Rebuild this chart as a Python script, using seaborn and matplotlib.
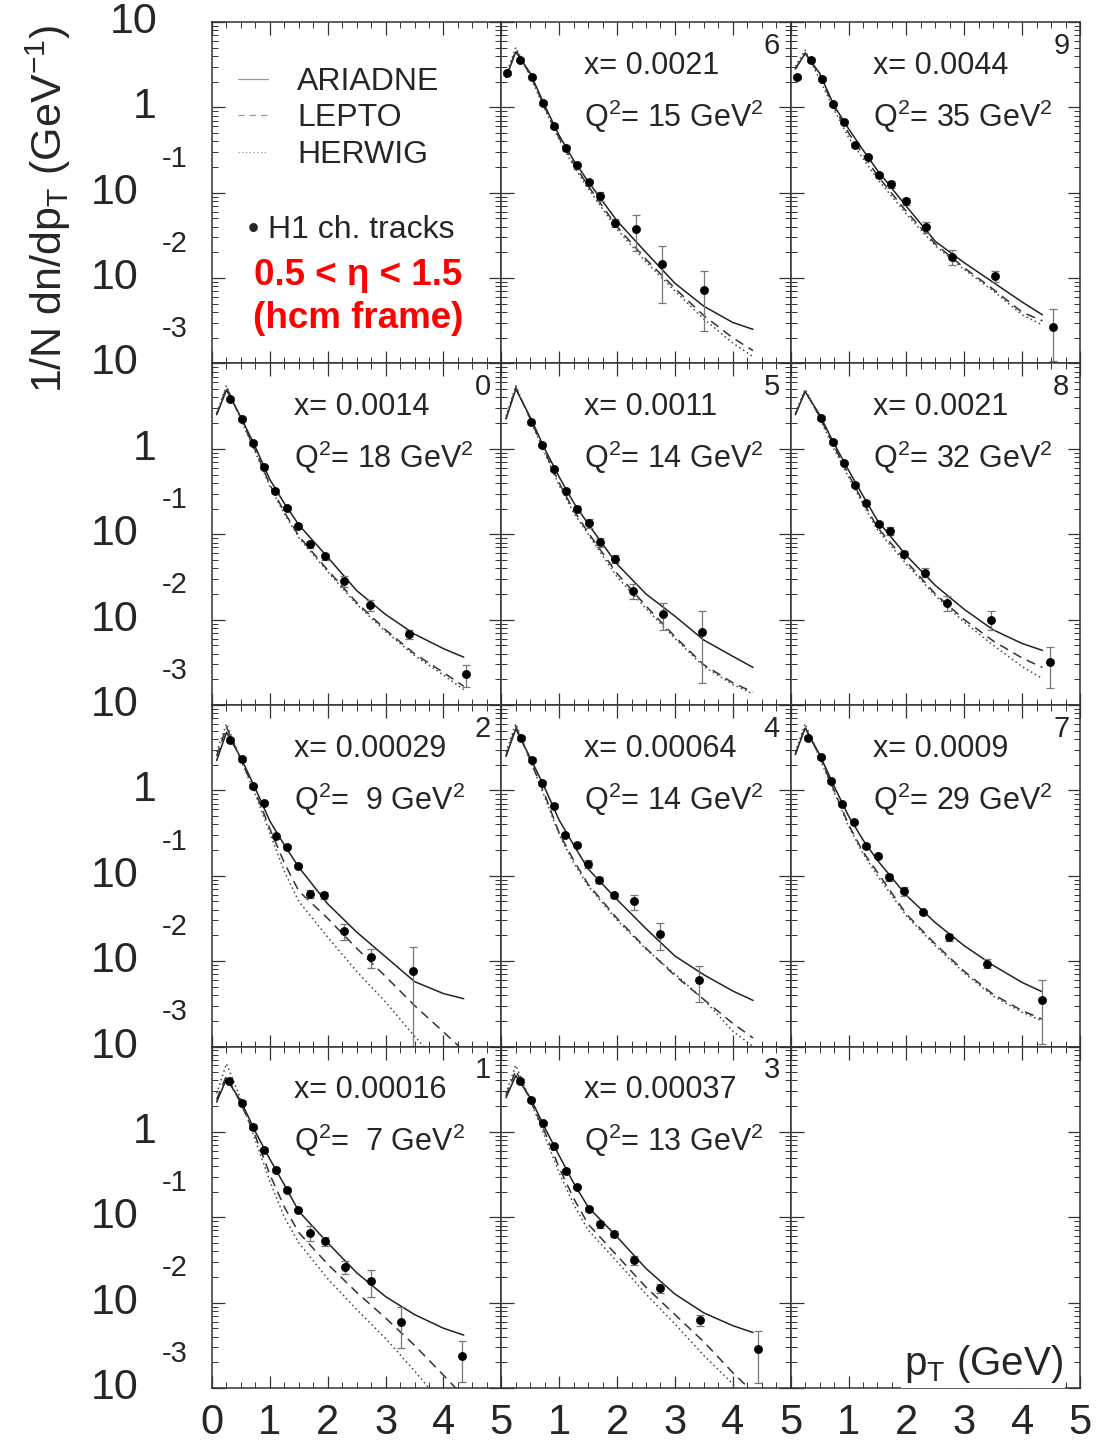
import numpy as np
import pandas as pd
import matplotlib
matplotlib.use('Agg')
import matplotlib.pyplot as plt
import matplotlib.transforms as mtrans
from matplotlib.lines import Line2D
from matplotlib.ticker import MultipleLocator, LogLocator, NullFormatter
import seaborn as sns

# panel layout (H1 bin numbers), None = empty pad
LAYOUT = [['legend', 6, 9], [0, 5, 8], [2, 4, 7], [1, 3, None]]

BIN_X = {6: '0.0021', 9: '0.0044', 0: '0.0014', 5: '0.0011', 8: '0.0021',
         2: '0.00029', 4: '0.00064', 7: '0.0009', 1: '0.00016', 3: '0.00037'}
BIN_Q2 = {6: '15', 9: '35', 0: '18', 5: '14', 8: '32',
          2: ' 9', 4: '14', 7: '29', 1: ' 7', 3: '13'}

# measured points: pT (GeV), log10(1/N dn/dpT), relative error
DATA_PT = {
    6: [0.10, 0.33, 0.53, 0.72, 0.91, 1.11, 1.31, 1.51, 1.71, 1.97, 2.32, 2.78, 3.51],
    9: [0.115, 0.35, 0.54, 0.73, 0.92, 1.12, 1.33, 1.52, 1.73, 1.99, 2.34, 2.79, 3.53, 4.54],
    0: [0.31, 0.51, 0.70, 0.89, 1.09, 1.29, 1.49, 1.70, 1.95, 2.28, 2.73, 3.41, 4.39],
    5: [0.51, 0.70, 0.91, 1.11, 1.31, 1.51, 1.71, 1.97, 2.28, 2.79, 3.46],
    8: [0.53, 0.73, 0.92, 1.12, 1.31, 1.52, 1.71, 1.95, 2.32, 2.70, 3.46, 4.48],
    2: [0.31, 0.51, 0.70, 0.90, 1.10, 1.29, 1.49, 1.70, 1.94, 2.28, 2.75, 3.47],
    4: [0.335, 0.53, 0.70, 0.91, 1.10, 1.31, 1.50, 1.69, 1.95, 2.29, 2.74, 3.42],
    7: [0.30, 0.53, 0.70, 0.89, 1.10, 1.31, 1.51, 1.70, 1.95, 2.29, 2.74, 3.39, 4.35],
    1: [0.30, 0.51, 0.70, 0.90, 1.10, 1.29, 1.48, 1.70, 1.96, 2.30, 2.75, 3.27, 4.32],
    3: [0.32, 0.52, 0.715, 0.905, 1.11, 1.31, 1.51, 1.71, 1.955, 2.29, 2.74, 3.43, 4.43],
}
DATA_LOG = {
    6: [0.40, 0.56, 0.35, 0.05, -0.22, -0.48, -0.68, -0.88, -1.04, -1.35, -1.42, -1.84, -2.14],
    9: [0.36, 0.555, 0.33, 0.04, -0.17, -0.44, -0.58, -0.79, -0.90, -1.10, -1.40, -1.75, -1.98, -2.57],
    0: [0.58, 0.35, 0.07, -0.21, -0.49, -0.69, -0.90, -1.12, -1.26, -1.55, -1.83, -2.17, -2.64],
    5: [0.31, 0.05, -0.24, -0.49, -0.70, -0.87, -1.09, -1.29, -1.66, -1.93, -2.14],
    8: [0.36, 0.08, -0.17, -0.42, -0.63, -0.88, -0.96, -1.23, -1.45, -1.80, -2.00, -2.50],
    2: [0.59, 0.37, 0.055, -0.15, -0.54, -0.66, -0.88, -1.21, -1.23, -1.65, -1.95, -2.11],
    4: [0.61, 0.36, 0.086, -0.18, -0.52, -0.64, -0.86, -1.05, -1.23, -1.30, -1.68, -2.22],
    7: [0.61, 0.39, 0.11, -0.16, -0.375, -0.65, -0.77, -1.02, -1.18, -1.43, -1.72, -2.03, -2.45],
    1: [0.60, 0.34, 0.06, -0.21, -0.45, -0.68, -0.92, -1.18, -1.28, -1.58, -1.745, -2.23, -2.63],
    3: [0.60, 0.37, 0.10, -0.17, -0.455, -0.64, -0.90, -1.08, -1.20, -1.50, -1.83, -2.20, -2.54],
}
DATA_REL = {
    6: [0.05, 0.05, 0.05, 0.05, 0.05, 0.07, 0.08, 0.08, 0.12, 0.10, 0.45, 0.65, 0.67],
    9: [0.05, 0.05, 0.05, 0.05, 0.05, 0.05, 0.05, 0.05, 0.10, 0.10, 0.15, 0.20, 0.15, 0.60],
    0: [0.05, 0.05, 0.05, 0.05, 0.05, 0.05, 0.05, 0.10, 0.08, 0.15, 0.15, 0.12, 0.30],
    5: [0.05, 0.05, 0.05, 0.06, 0.08, 0.12, 0.12, 0.10, 0.20, 0.35, 0.75],
    8: [0.05, 0.05, 0.05, 0.05, 0.05, 0.05, 0.10, 0.08, 0.12, 0.20, 0.25, 0.50],
    2: [0.05, 0.05, 0.05, 0.05, 0.05, 0.05, 0.05, 0.10, 0.10, 0.20, 0.25, 0.90],
    4: [0.05, 0.05, 0.05, 0.05, 0.05, 0.05, 0.10, 0.08, 0.08, 0.20, 0.35, 0.45],
    7: [0.05, 0.05, 0.05, 0.05, 0.05, 0.05, 0.05, 0.10, 0.12, 0.05, 0.10, 0.12, 0.70],
    1: [0.05, 0.05, 0.05, 0.05, 0.05, 0.05, 0.05, 0.20, 0.12, 0.18, 0.35, 0.50, 0.50],
    3: [0.05, 0.05, 0.05, 0.05, 0.05, 0.05, 0.05, 0.10, 0.08, 0.12, 0.12, 0.15, 0.60],
}

# Monte Carlo predictions, log10 values on a common pT grid
CURVE_PT = [0.08, 0.25, 0.5, 0.75, 1.0, 1.25, 1.5, 2.0, 2.5, 3.0, 3.5, 4.0, 4.35]
ARIADNE = {
    6: [0.35, 0.65, 0.40, 0.02, -0.33, -0.62, -0.87, -1.33, -1.70, -2.06, -2.33, -2.52, -2.60],
    9: [0.45, 0.63, 0.40, 0.02, -0.25, -0.50, -0.74, -1.16, -1.57, -1.82, -2.05, -2.28, -2.43],
    0: [0.40, 0.69, 0.37, 0.02, -0.36, -0.64, -0.89, -1.27, -1.66, -1.94, -2.17, -2.34, -2.44],
    5: [0.35, 0.70, 0.37, 0.00, -0.33, -0.63, -0.88, -1.35, -1.70, -1.96, -2.24, -2.43, -2.56],
    8: [0.40, 0.67, 0.40, 0.06, -0.25, -0.55, -0.84, -1.25, -1.60, -1.88, -2.12, -2.28, -2.36],
    2: [0.35, 0.68, 0.38, 0.02, -0.36, -0.64, -0.90, -1.33, -1.66, -1.95, -2.24, -2.38, -2.44],
    4: [0.40, 0.72, 0.38, 0.03, -0.35, -0.64, -0.92, -1.28, -1.62, -1.94, -2.16, -2.35, -2.46],
    7: [0.42, 0.73, 0.42, 0.05, -0.30, -0.58, -0.82, -1.23, -1.55, -1.82, -2.05, -2.25, -2.36],
    1: [0.35, 0.62, 0.36, 0.00, -0.32, -0.62, -0.93, -1.30, -1.65, -1.93, -2.14, -2.30, -2.38],
    3: [0.40, 0.66, 0.40, 0.05, -0.28, -0.60, -0.88, -1.23, -1.60, -1.90, -2.12, -2.27, -2.35],
}
LEPTO = {
    6: [0.35, 0.67, 0.38, 0.00, -0.36, -0.66, -0.92, -1.40, -1.78, -2.12, -2.44, -2.70, -2.85],
    9: [0.45, 0.64, 0.38, 0.00, -0.30, -0.55, -0.80, -1.22, -1.60, -1.88, -2.13, -2.40, -2.50],
    0: [0.40, 0.72, 0.35, -0.02, -0.42, -0.74, -1.02, -1.42, -1.80, -2.12, -2.40, -2.62, -2.78],
    5: [0.35, 0.72, 0.35, -0.03, -0.40, -0.72, -0.98, -1.46, -1.84, -2.20, -2.53, -2.74, -2.85],
    8: [0.40, 0.68, 0.38, 0.03, -0.30, -0.62, -0.92, -1.32, -1.70, -2.00, -2.25, -2.45, -2.56],
    2: [0.40, 0.74, 0.36, -0.02, -0.45, -0.85, -1.18, -1.50, -1.85, -2.18, -2.52, -2.83, -3.05],
    4: [0.40, 0.75, 0.35, -0.05, -0.50, -0.82, -1.10, -1.50, -1.85, -2.17, -2.45, -2.73, -2.90],
    7: [0.42, 0.74, 0.40, 0.00, -0.40, -0.72, -0.96, -1.45, -1.80, -2.12, -2.39, -2.58, -2.68],
    1: [0.38, 0.66, 0.33, -0.05, -0.50, -0.88, -1.18, -1.55, -1.88, -2.18, -2.50, -2.85, -3.10],
    3: [0.42, 0.72, 0.37, 0.00, -0.42, -0.78, -1.08, -1.45, -1.82, -2.14, -2.46, -2.82, -3.05],
}
HERWIG = {
    6: [0.38, 0.70, 0.36, -0.02, -0.38, -0.69, -0.95, -1.43, -1.81, -2.15, -2.48, -2.76, -2.92],
    9: [0.48, 0.67, 0.33, -0.03, -0.35, -0.60, -0.84, -1.25, -1.62, -1.90, -2.15, -2.43, -2.55],
    0: [0.42, 0.74, 0.34, -0.04, -0.44, -0.76, -1.04, -1.44, -1.82, -2.14, -2.42, -2.65, -2.82],
    5: [0.38, 0.74, 0.34, -0.05, -0.43, -0.75, -1.00, -1.50, -1.87, -2.22, -2.55, -2.76, -2.87],
    8: [0.42, 0.70, 0.36, 0.00, -0.33, -0.65, -0.95, -1.35, -1.72, -2.03, -2.30, -2.55, -2.69],
    2: [0.45, 0.78, 0.35, -0.05, -0.50, -0.95, -1.30, -1.72, -2.12, -2.48, -2.88, -3.25, -3.50],
    4: [0.45, 0.78, 0.35, -0.08, -0.52, -0.85, -1.12, -1.52, -1.86, -2.15, -2.45, -2.82, -3.00],
    7: [0.45, 0.78, 0.38, -0.02, -0.42, -0.74, -1.00, -1.47, -1.82, -2.14, -2.41, -2.60, -2.70],
    1: [0.45, 0.80, 0.38, -0.10, -0.58, -1.00, -1.30, -1.72, -2.08, -2.42, -2.80, -3.20, -3.50],
    3: [0.45, 0.78, 0.37, -0.05, -0.48, -0.85, -1.15, -1.52, -1.90, -2.25, -2.62, -2.95, -3.30],
}

sns.set_style('ticks')
plt.rcParams['font.family'] = ['Liberation Sans', 'DejaVu Sans']
plt.rcParams['mathtext.fontset'] = 'custom'
plt.rcParams['mathtext.rm'] = 'Liberation Sans'
plt.rcParams['mathtext.it'] = 'Liberation Sans:italic'

EDGE = '#333333'
fig = plt.figure(figsize=(11.06, 14.46), dpi=100)
gs = fig.add_gridspec(4, 3, left=0.1917, right=0.9765, top=0.9848, bottom=0.0401,
                      hspace=0, wspace=0)

for r, row in enumerate(LAYOUT):
    for c, p in enumerate(row):
        ax = fig.add_subplot(gs[r, c])
        ax.set_yscale('log')
        ax.set_xlim(0, 5)
        ax.set_ylim(1e-3, 10)
        for s in ax.spines.values():
            s.set_color(EDGE)
            s.set_linewidth(1.1)
        ax.xaxis.set_major_locator(MultipleLocator(1))
        ax.xaxis.set_minor_locator(MultipleLocator(0.25))
        ax.yaxis.set_major_locator(LogLocator(base=10, numticks=10))
        ax.yaxis.set_minor_locator(LogLocator(base=10, subs=np.arange(2, 10), numticks=20))
        ax.yaxis.set_minor_formatter(NullFormatter())
        ax.tick_params(which='both', direction='in', top=True, right=True,
                       left=True, bottom=True, color=EDGE, labelleft=False,
                       labelbottom=(r == 3))
        ax.tick_params(which='major', length=9, width=0.9)
        ax.tick_params(which='minor', length=4.5, width=0.7)
        if r == 3:
            ax.set_xticks([0, 1, 2, 3, 4, 5])
            labs = ['0', '1', '2', '3', '4', '5'] if c == 0 else ['', '1', '2', '3', '4', '5']
            ax.set_xticklabels(labs, fontsize=30)
            ax.tick_params(axis='x', which='major', pad=11)

        # y labels drawn by hand (ROOT style exponent)
        if c == 0:
            tr = mtrans.blended_transform_factory(ax.transAxes, ax.transData)
            if r == 0:
                ax.text(-0.19, 10, '10', transform=tr, ha='right', va='center', fontsize=31)
            ax.text(-0.19, 1, '1', transform=tr, ha='right', va='center', fontsize=31)
            for d in (-1, -2, -3):
                ax.text(-0.253, 10.0 ** d, '10', transform=tr, ha='right', va='center', fontsize=31)
                ax.text(-0.085, 10.0 ** (d + 0.4), str(d), transform=tr, ha='right',
                        va='center', fontsize=21)

        if p == 'legend':
            handles = [Line2D([], [], color='#999999', lw=0.9, ls='-'),
                       Line2D([], [], color='#999999', lw=0.9, ls=(0, (5, 4))),
                       Line2D([], [], color='#999999', lw=0.9, ls=(0, (1, 2)))]
            ax.legend(handles, ['ARIADNE', 'LEPTO', 'HERWIG'], loc='upper left',
                      bbox_to_anchor=(0.09, 0.868), frameon=False, fontsize=23,
                      handlelength=0.95, handletextpad=0.9, labelspacing=0.2,
                      borderpad=0, borderaxespad=0)
            ax.text(0.125, 0.39, '\u2022 H1 ch. tracks', transform=ax.transAxes,
                    ha='left', va='center', fontsize=23)
            ax.text(0.505, 0.258, '0.5 < \u03b7 < 1.5', transform=ax.transAxes, ha='center',
                    va='center', fontsize=26.5, fontweight='bold', color='#ff0000')
            ax.text(0.505, 0.132, '(hcm frame)', transform=ax.transAxes, ha='center',
                    va='center', fontsize=26.5, fontweight='bold', color='#ff0000')
            continue
        if p is None:
            ax.text(0.94, 0.008, r'p$_{\rm T}$ (GeV)', transform=ax.transAxes, ha='right',
                    va='bottom', fontsize=29, zorder=10, clip_on=False,
                    bbox=dict(fc='white', ec='none', pad=2))
            continue

        curves = pd.DataFrame({'pt': CURVE_PT * 3,
                               'val': 10.0 ** np.concatenate([ARIADNE[p], LEPTO[p], HERWIG[p]]),
                               'model': ['ARIADNE'] * 13 + ['LEPTO'] * 13 + ['HERWIG'] * 13})
        for model, ls, col in [('ARIADNE', '-', '#222222'),
                               ('LEPTO', (0, (6, 4)), '#333333'),
                               ('HERWIG', (0, (1, 2)), '#444444')]:
            sub = curves[curves['model'] == model]
            sns.lineplot(data=sub, x='pt', y='val', ax=ax, color=col, lw=1.1,
                         linestyle=ls, estimator=None, sort=False, legend=False)

        pts = pd.DataFrame({'pt': DATA_PT[p], 'val': 10.0 ** np.array(DATA_LOG[p])})
        pts['err'] = pts['val'] * np.array(DATA_REL[p])
        ax.errorbar(pts['pt'], pts['val'], yerr=pts['err'], fmt='none', ecolor='#777777',
                    elinewidth=0.9, capsize=3, capthick=0.9, zorder=3)
        sns.scatterplot(data=pts, x='pt', y='val', ax=ax, color='black', s=34,
                        edgecolor='black', linewidth=0.5, zorder=4, legend=False)

        ax.set_xlim(0, 5)
        ax.set_ylim(1e-3, 10)
        ax.set_xlabel('')
        ax.set_ylabel('')
        ax.text(0.285, 0.872, 'x= ' + BIN_X[p], transform=ax.transAxes, ha='left',
                va='center', fontsize=22)
        ax.text(0.285, 0.724, 'Q$^2$= ' + BIN_Q2[p] + ' GeV$^2$', transform=ax.transAxes,
                ha='left', va='center', fontsize=22)
        ax.text(0.935, 0.93, str(p), transform=ax.transAxes, ha='center', va='center',
                fontsize=21)

fig.text(0.044, 0.983, r'1/N dn/dp$_{\rm T}$ (GeV$^{-1}$)', rotation=90, ha='center',
         va='top', fontsize=31)

fig.savefig('out.png', dpi=100)
